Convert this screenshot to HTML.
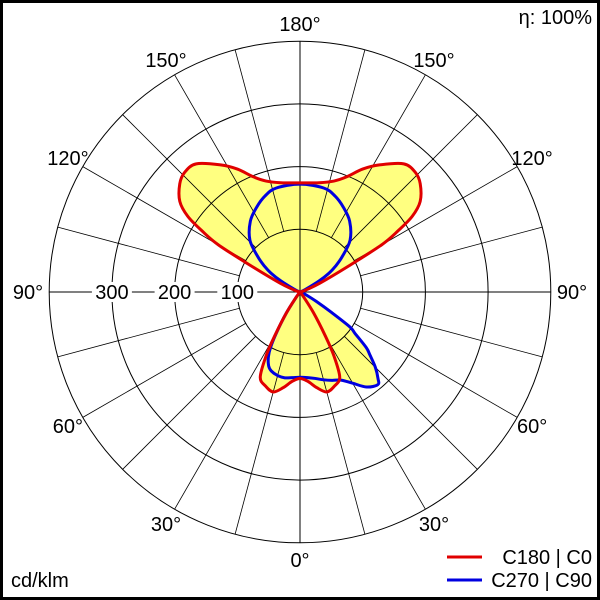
<!DOCTYPE html>
<html><head><meta charset="utf-8"><style>
html,body{margin:0;padding:0;background:#fff}
svg{display:block}
text{font-family:"Liberation Sans",Arial,sans-serif;font-size:20px;fill:#000}
</style></head><body>
<svg id="chart" width="600" height="600" viewBox="0 0 600 600" xmlns="http://www.w3.org/2000/svg">
<rect x="1.5" y="1.5" width="597" height="597" fill="#fff" stroke="#000" stroke-width="3"/>
<g id="fills"></g>
<g id="grid"></g>
<g id="curves"></g>
<g id="labels"></g>
<text x="592" y="24" text-anchor="end">η: 100%</text>
<text x="11" y="587">cd/klm</text>
<line x1="447" y1="557" x2="482" y2="557" stroke="#e00000" stroke-width="3"/>
<text x="592" y="564" text-anchor="end">C180 | C0</text>
<line x1="447" y1="580" x2="482" y2="580" stroke="#0000e0" stroke-width="3"/>
<text x="592" y="587" text-anchor="end">C270 | C90</text>
</svg>
<script>
// ---- data ----
const ringValues = [100, 200, 300, 400];
const ringLabels = ["100", "200", "300"];
const angleLabels = ["0°", "30°", "60°", "90°", "120°", "150°", "180°"];
const labelAngles = [0, 30, 60, 90, 120, 150, 180];
// C180 | C0 (symmetric)
const redAngles = [0,5,10,15,20,25,28,30,33,36,40,90,100,105,110,114,118,120,122,124,127,132,136,141,148,153,158,163,170,180];
const redValues = [138,143,155,165,160,150,115,80,40,10,0,0,2,5,12,35,85,150,185,216,240,258,265,263,239,220,198,185,177,174];
// C90 (right side)
const blueRightAngles = [0,5,10,15,20,25,30,35,40,42,45,48,50,53,55,57,60,65,70,75,90,110,115,120,123,126,130,136,145,153,160,167,180];
const blueRightValues = [136,137,140,145,150,155,168,185,193,186,170,150,138,110,97,60,30,10,3,0,0,2,10,35,55,70,88,115,138,152,163,170,172];
// C270 (left side)
const blueLeftAngles = [0,5,10,15,20,23,26,28,30,33,36,40,90,110,115,120,123,126,130,136,145,153,160,167,180];
const blueLeftValues = [136,137,139,138,134,128,115,100,75,40,10,0,0,2,10,35,55,70,88,115,138,152,163,170,172];

const NS = "http://www.w3.org/2000/svg";
const cx = 300, cy = 292, maxVal = 400, maxR = 250.8;
function rScale(v){ return v / maxVal * maxR; }
function pt(g, v, side){ const r = rScale(v), a = g*Math.PI/180; return [cx + side*r*Math.sin(a), cy + r*Math.cos(a)]; }
function mk(tag, attrs, parent){ const e = document.createElementNS(NS, tag); for (const k in attrs) e.setAttribute(k, attrs[k]); parent.appendChild(e); return e; }

function closedPath(rightA, rightV, leftA, leftV){
  let pts = [];
  rightA.forEach((g, i) => pts.push(pt(g, rightV[i], 1)));
  for (let i = leftA.length - 1; i >= 0; i--) pts.push(pt(leftA[i], leftV[i], -1));
  const P = [];
  pts.forEach(p => { const q = P[P.length-1]; if (!q || Math.hypot(p[0]-q[0], p[1]-q[1]) > 0.8) P.push(p); });
  const f0 = P[0], fl = P[P.length-1];
  if (Math.hypot(f0[0]-fl[0], f0[1]-fl[1]) < 0.8) P.pop();
  const n = P.length;
  let d = "M" + P[0][0].toFixed(2) + "," + P[0][1].toFixed(2);
  for (let i = 0; i < n; i++) {
    const p0 = P[(i-1+n)%n], p1 = P[i], p2 = P[(i+1)%n], p3 = P[(i+2)%n];
    const t = 1/6;
    const c1 = [p1[0] + (p2[0]-p0[0])*t, p1[1] + (p2[1]-p0[1])*t];
    const c2 = [p2[0] - (p3[0]-p1[0])*t, p2[1] - (p3[1]-p1[1])*t];
    d += "C" + c1[0].toFixed(2) + "," + c1[1].toFixed(2) + " " + c2[0].toFixed(2) + "," + c2[1].toFixed(2) + " " + p2[0].toFixed(2) + "," + p2[1].toFixed(2);
  }
  return d + "Z";
}

const fills = document.getElementById("fills");
const grid = document.getElementById("grid");
const curves = document.getElementById("curves");
const labels = document.getElementById("labels");

const redD = closedPath(redAngles, redValues, redAngles, redValues);
const blueD = closedPath(blueRightAngles, blueRightValues, blueLeftAngles, blueLeftValues);
let f1 = mk("path", {d: redD, fill: "#ffff80", stroke: "none"}, fills);


let f2 = mk("path", {d: blueD, fill: "#ffff80", stroke: "none"}, fills);



ringValues.forEach(v => {
  const c = mk("circle", {cx: cx, cy: cy, r: rScale(v), fill: "none", stroke: "#000", "stroke-width": 1}, grid);
  
  
});
for (let g = 15; g < 180; g += 15) {
  if (g === 90) continue;
  [1, -1].forEach(s => {
    const a = pt(g, 100, s), b = pt(g, maxVal, s);
    const l = mk("line", {x1: a[0], y1: a[1], x2: b[0], y2: b[1], stroke: "#000", "stroke-width": 0.8}, grid);
    
    
  });
}
let ax1 = mk("line", {x1: cx - maxR, y1: cy, x2: cx + maxR, y2: cy, stroke: "#000", "stroke-width": 1}, grid);


let ax2 = mk("line", {x1: cx, y1: cy - maxR, x2: cx, y2: cy + maxR, stroke: "#000", "stroke-width": 1}, grid);



let c2 = mk("path", {d: blueD, fill: "none", stroke: "#0000e0", "stroke-width": 3, "stroke-linejoin": "round"}, curves);


let c1 = mk("path", {d: redD, fill: "none", stroke: "#e00000", "stroke-width": 3, "stroke-linejoin": "round"}, curves);



ringLabels.forEach((t, i) => {
  const x = cx - rScale(ringValues[i]);
  const bg = mk("rect", {x: x - 20, y: cy - 10, width: 40, height: 20, fill: "#fff"}, labels);
  
  
  const tx = mk("text", {x: x, y: cy + 7, "text-anchor": "middle"}, labels);
  tx.textContent = t;
  
  
});
labelAngles.forEach((g, i) => {
  const sides = (g === 0 || g === 180) ? [1] : [1, -1];
  sides.forEach(s => {
    const r = (g === 90) ? 272 : 268;
    const a = g*Math.PI/180;
    const x = cx + s*r*Math.sin(a), y = cy + r*Math.cos(a);
    const tx = mk("text", {x: x, y: y + 7, "text-anchor": "middle"}, labels);
    tx.textContent = angleLabels[i];
    
    
  });
});
</script>
</body></html>
